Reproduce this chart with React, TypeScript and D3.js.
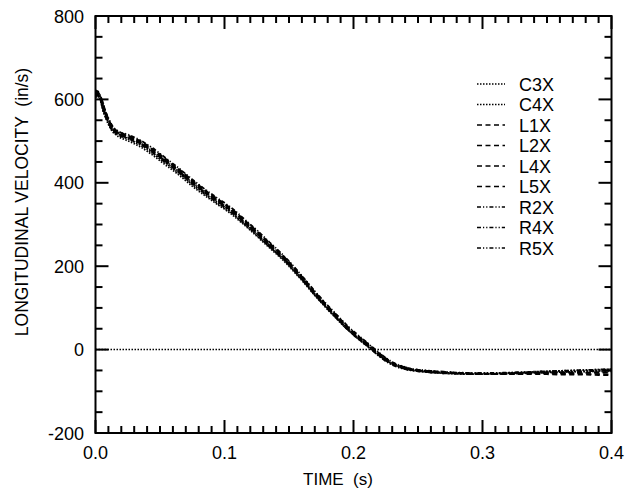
import React from "react";
import * as d3 from "d3";

const TIME = [
  0, 0.002, 0.004, 0.006, 0.008, 0.01, 0.012, 0.014, 0.016, 0.018, 0.02,
  0.025, 0.03, 0.035, 0.04, 0.045, 0.05, 0.055, 0.06, 0.065, 0.07,
  0.075, 0.08, 0.085, 0.09, 0.095, 0.1, 0.105, 0.11, 0.115, 0.12,
  0.125, 0.13, 0.135, 0.14, 0.145, 0.15, 0.155, 0.16, 0.165, 0.17,
  0.175, 0.18, 0.185, 0.19, 0.195, 0.2, 0.205, 0.21, 0.215, 0.22,
  0.225, 0.23, 0.235, 0.24, 0.245, 0.25,
  0.26, 0.27, 0.28, 0.29, 0.3, 0.31, 0.32, 0.33, 0.34, 0.35, 0.36, 0.37, 0.38, 0.39, 0.4,
];

const C3X = [605,608,598,570,555,540,528,520,515,510,507, 501,494,486,476,465,453,441,430,418,405,392,380,369,358,347,337,326,313,300,286,272,258,244,230,216,200,183,166,148,130,113,96,80,64,49,35,22,10,-3,-16,-27,-36,-42,-47,-50,-52, -55,-57,-58,-59,-59,-58,-57,-56,-55,-54,-54,-53,-53,-52,-52];
const C4X = [618,616,606,585,566,552,538,529,524,519,514, 506,498,490,481,469,457,446,434,422,409,396,384,372,361,350,340,329,316,302,289,275,260,246,232,218,202,185,168,150,131,114,98,82,66,50,37,24,12,-1,-14,-25,-34,-40,-45,-48,-50, -53,-55,-57,-58,-58,-57,-56,-55,-53,-52,-51,-50,-49,-48,-47];
const L1X = [620,617,608,588,570,553,540,531,526,522,519, 514,507,500,490,479,468,456,444,432,419,406,394,382,371,360,350,339,326,312,298,285,270,255,241,226,210,193,175,157,138,121,104,88,72,56,42,29,17,4,-9,-21,-31,-38,-43,-47,-49, -52,-54,-56,-57,-58,-58,-57,-57,-56,-56,-55,-55,-55,-54,-54];
const L2X = [612,614,601,577,560,547,533,525,520,517,515, 511,504,497,488,477,465,454,442,430,417,404,392,380,369,358,348,337,324,310,296,283,268,253,239,225,209,192,174,156,137,120,103,87,71,55,41,28,16,3,-10,-22,-32,-38,-43,-47,-49, -52,-54,-56,-57,-57,-58,-58,-58,-57,-57,-57,-56,-56,-56,-55];
const L4X = [616,612,604,582,564,549,537,528,523,520,516, 512,505,498,487,476,464,452,441,429,416,403,391,379,368,357,347,336,323,309,295,282,267,252,238,224,208,191,173,155,136,119,102,86,70,54,40,27,15,2,-11,-23,-33,-39,-44,-48,-50, -53,-55,-57,-58,-58,-58,-58,-57,-57,-57,-58,-58,-59,-59,-60];
const L5X = [610,611,598,575,558,545,531,523,519,515,512, 508,501,494,484,473,461,449,438,426,413,400,388,376,365,354,344,333,320,306,292,279,264,249,235,221,205,188,170,152,133,116,99,83,67,51,37,24,12,-1,-14,-26,-35,-41,-46,-49,-51, -54,-56,-57,-58,-59,-59,-59,-59,-59,-59,-60,-60,-60,-61,-61];
const R2X = [622,619,607,590,568,555,542,532,527,523,520, 516,509,502,492,482,470,458,446,434,421,408,396,384,373,362,352,341,328,314,300,287,272,257,243,228,212,195,177,159,140,123,106,90,74,58,44,31,18,5,-8,-20,-30,-37,-42,-46,-48, -51,-53,-55,-56,-56,-56,-55,-54,-53,-52,-51,-50,-49,-48,-47];
const R4X = [614,615,602,579,561,546,534,526,521,517,514, 509,502,495,485,474,462,451,439,427,414,401,389,377,366,355,345,334,321,307,293,280,265,250,236,222,206,189,171,153,134,117,100,84,68,52,38,25,13,0,-13,-25,-34,-40,-45,-48,-50, -53,-55,-56,-57,-57,-57,-56,-55,-54,-53,-52,-51,-50,-49,-48];
const R5X = [608,610,596,572,556,543,530,522,517,514,511, 506,499,492,482,471,459,447,436,424,411,398,386,374,363,352,342,331,318,304,290,277,262,247,233,219,203,186,168,150,131,114,97,81,65,49,35,22,10,-3,-16,-28,-37,-43,-47,-50,-52, -55,-57,-58,-59,-59,-59,-58,-57,-56,-55,-54,-53,-52,-51,-50];

const SERIES_NAMES = ["C3X", "C4X", "L1X", "L2X", "L4X", "L5X", "R2X", "R4X", "R5X"];
const SERIES_VALUES = [C3X, C4X, L1X, L2X, L4X, L5X, R2X, R4X, R5X];
const SERIES_KIND = ["dot", "dot", "dash", "dash", "dash", "dash", "dashdot", "dashdot", "dashdot"];

const X_TICKS = [0, 0.1, 0.2, 0.3, 0.4];
const Y_TICKS = [-200, 0, 200, 400, 600, 800];

const DASH: Record<string, string> = {
  dot: "1.5,1.5",
  dash: "5,3.5",
  dashdot: "4,2,1.2,2,1.2,2",
};

const FONT = "'Liberation Sans', Arial, sans-serif";

export default function App() {
  const W = 639, H = 492;
  const x = d3.scaleLinear().domain([0, 0.4]).range([95.5, 611.5]);
  const y = d3.scaleLinear().domain([-200, 800]).range([433, 16]);

  const line = d3
    .line<[number, number]>()
    .x((d) => x(d[0]))
    .y((d) => y(d[1]));

  const xMinor = d3.range(0, 41).map((i) => i / 100);
  const yMinor = d3.range(-200, 801, 50);
  const isMajorX = (t: number) => Math.abs(t * 10 - Math.round(t * 10)) < 1e-6;
  const isMajorY = (v: number) => v % 200 === 0;

  const [x0, x1] = x.range();
  const [yb, yt] = y.range();

  return (
    <svg width={W} height={H} style={{ position: "absolute", left: 0, top: 0, background: "#fff" }}>
      <rect x={0} y={0} width={W} height={H} fill="#fff" />
      <line x1={x0} x2={x1} y1={y(0)} y2={y(0)} stroke="#000" strokeWidth={1.5} strokeDasharray="1.5,1.5" />
      <g fill="none" stroke="#000" strokeWidth={1.8}>
        {SERIES_VALUES.map((vals, i) => {
          const pts: [number, number][] = TIME.slice(0, vals.length).map((t, j) => [t, vals[j]]);
          return <path key={i} d={line(pts) || ""} strokeDasharray={DASH[SERIES_KIND[i]]} />;
        })}
      </g>
      <g stroke="#000" strokeWidth={2}>
        {xMinor.map((t, i) => {
          const L = isMajorX(t) ? 13 : 7;
          return (
            <g key={"xt" + i}>
              <line x1={x(t)} x2={x(t)} y1={yb} y2={yb - L} />
              <line x1={x(t)} x2={x(t)} y1={yt} y2={yt + L} />
            </g>
          );
        })}
        {yMinor.map((v, i) => {
          const L = isMajorY(v) ? 13 : 7;
          return (
            <g key={"yt" + i}>
              <line x1={x0} x2={x0 + L} y1={y(v)} y2={y(v)} />
              <line x1={x1} x2={x1 - L} y1={y(v)} y2={y(v)} />
            </g>
          );
        })}
      </g>
      <rect x={x0} y={yt} width={x1 - x0} height={yb - yt} fill="none" stroke="#000" strokeWidth={2} />
      <g fontFamily={FONT} fontSize={18} fill="#000">
        {X_TICKS.map((t) => (
          <text key={"xl" + t} x={x(t)} y={459} textAnchor="middle">
            {t.toFixed(1)}
          </text>
        ))}
        {Y_TICKS.map((v) => (
          <text key={"yl" + v} x={84} y={y(v) + 6.5} textAnchor="end">
            {v}
          </text>
        ))}
      </g>
      <text x={338} y={485} textAnchor="middle" fontFamily={FONT} fontSize={17} xmlSpace="preserve">
        TIME  (s)
      </text>
      <text
        transform={`translate(28,202) rotate(-90)`}
        textAnchor="middle"
        fontFamily={FONT}
        fontSize={17.5}
        xmlSpace="preserve"
      >
        LONGITUDINAL VELOCITY  (in/s)
      </text>
      <g fontFamily={FONT} fontSize={18}>
        {SERIES_NAMES.map((name, i) => {
          const cy = 84 + i * 20.5;
          return (
            <g key={name}>
              <line x1={477} x2={505} y1={cy} y2={cy} stroke="#000" strokeWidth={1.5} strokeDasharray={DASH[SERIES_KIND[i]]} />
              <text x={519} y={cy + 6.5} fill="#000">
                {name}
              </text>
            </g>
          );
        })}
      </g>
    </svg>
  );
}
